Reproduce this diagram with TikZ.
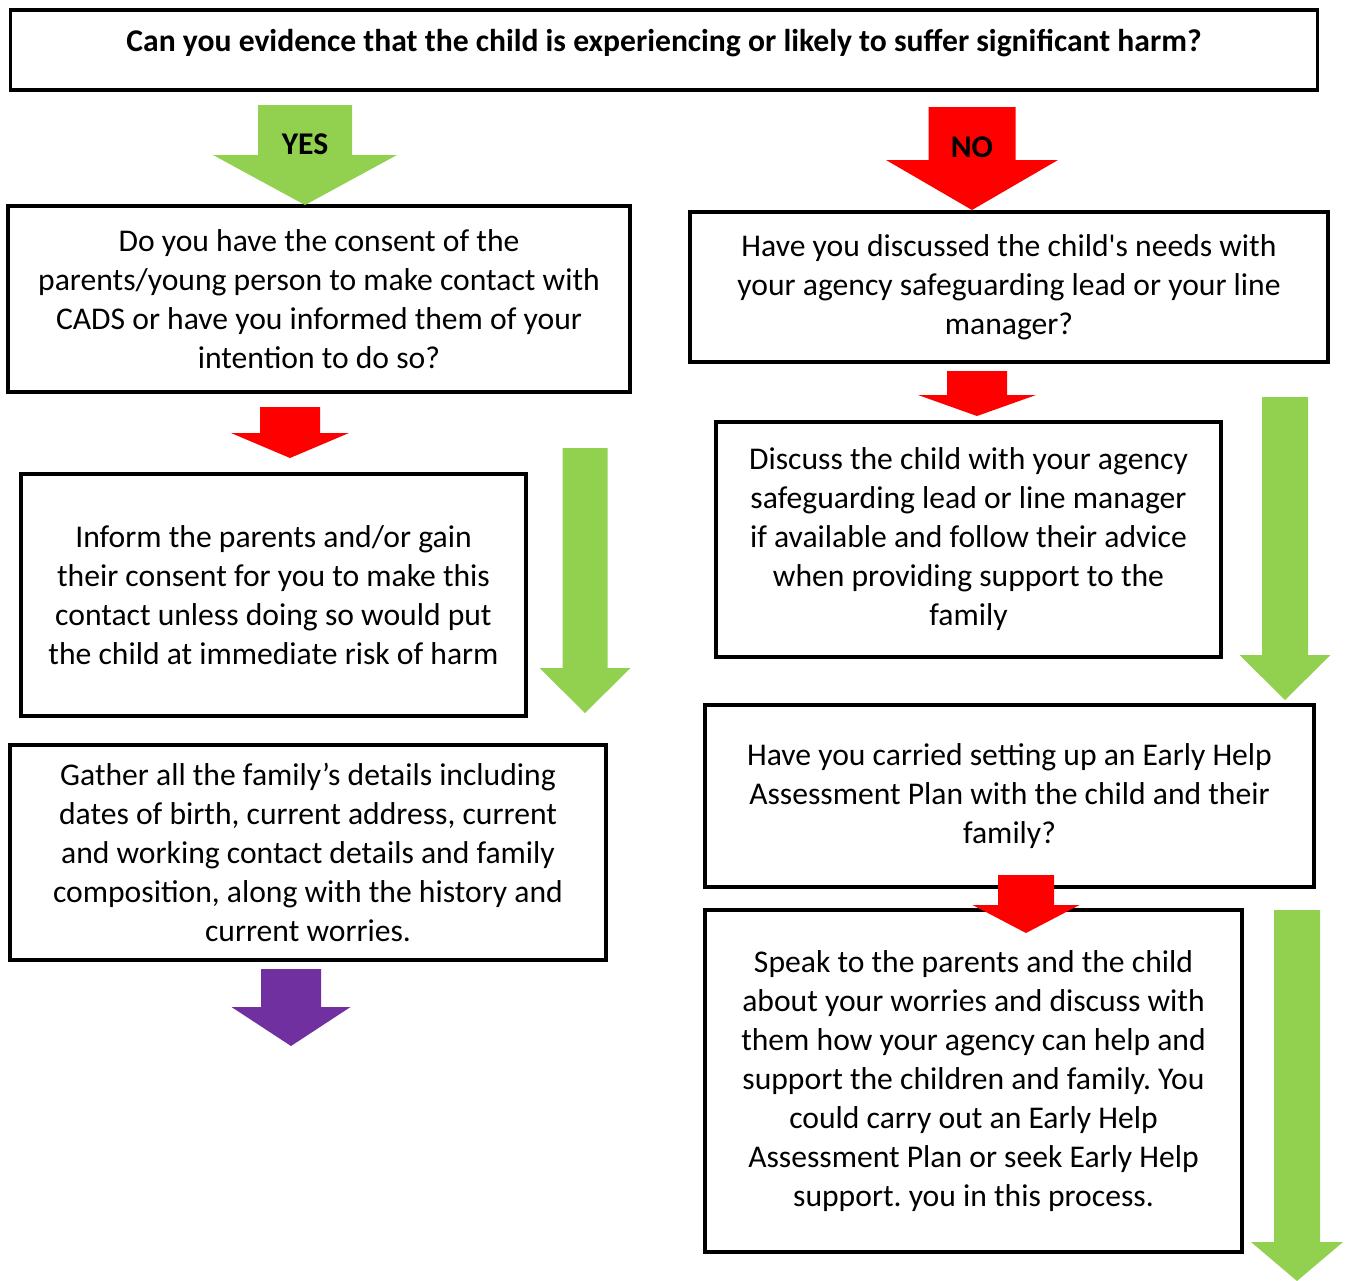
\documentclass[tikz,border=0pt]{standalone}
\usepackage{fontspec}
\setmainfont{Carlito}
\usepackage{xcolor}
\usepackage{tikz}
\frenchspacing

\definecolor{yesgreen}{HTML}{92D050}
\definecolor{nored}{HTML}{FF0000}
\definecolor{endpurple}{HTML}{7030A0}

% block arrow: colour, centre x, top y, half shaft, half head, head y, tip y
\newcommand{\blkarrow}[7]{\fill[#1] (#2-#4,#3) -- (#2+#4,#3) -- (#2+#4,#6) -- (#2+#5,#6) -- (#2,#7) -- (#2-#5,#6) -- (#2-#4,#6) -- cycle;}

\begin{document}
\begin{tikzpicture}[x=0.02cm,y=-0.02cm,
  box/.style={draw=black,line width=1.8pt,fill=white,align=center,inner sep=0pt,font=\fontsize{18}{22.2}\selectfont},
  tag/.style={draw=none,font=\fontsize{18}{22.2}\selectfont\bfseries}]
             \useasboundingbox (0,0) rectangle (1349,1281);

             \node[box,minimum width=26.16cm,minimum height=1.6cm] (top) at (664,50) {};
             \node[tag] (question) at (664,43) {Can you evidence that the child is experiencing or likely to suffer significant harm?};

             \node[box,minimum width=12.44cm,minimum height=3.72cm] (consent) at (319,299)
               {Do you have the consent of the\\parents/young person to make contact with\\CADS or have you informed them of your\\intention to do so?};
             \node[box,minimum width=12.76cm,minimum height=3.0cm] (discussed) at (1009,287)
               {Have you discussed the child\textquotesingle s needs with\\your agency safeguarding lead or your line\\manager?};
             \node[box,minimum width=10.1cm,minimum height=4.84cm] (inform) at (273.5,595)
               {Inform the parents and/or gain\\their consent for you to make this\\contact unless doing so would put\\the child at immediate risk of harm};
             \node[box,minimum width=11.92cm,minimum height=4.3cm] (gather) at (308,852.5)
               {Gather all the family’s details including\\dates of birth, current address, current\\and working contact details and family\\composition, along with the history and\\current worries.};
             \node[box,minimum width=10.1cm,minimum height=4.7cm] (discuss) at (968.5,539.5)
               {Discuss the child with your agency\\safeguarding lead or line manager\\if available and follow their advice\\when providing support to the\\family};
             \node[box,minimum width=12.18cm,minimum height=3.64cm] (earlyhelp) at (1009.5,796)
               {Have you carried setting up an Early Help\\Assessment Plan with the child and their\\family?};
             \node[box,minimum width=10.74cm,minimum height=6.84cm] (speak) at (973.5,1081)
               {Speak to the parents and the child\\about your worries and discuss with\\them how your agency can help and\\support the children and family. You\\could carry out an Early Help\\Assessment Plan or seek Early Help\\support. you in this process.};

             \blkarrow{yesgreen}{305}{105}{47}{92}{155}{205}
             \node[tag] (yes) at (305,144) {YES};
             \blkarrow{nored}{972}{107}{43.5}{86}{160}{210}
             \node[tag] (no) at (972,147) {NO};

             \blkarrow{nored}{290}{407}{30}{59}{433}{458}
             \blkarrow{yesgreen}{585}{448}{22.5}{45.5}{668}{713}
             \blkarrow{endpurple}{291}{969}{30}{59.5}{1007}{1046}

             \blkarrow{nored}{977}{371}{30}{59}{395}{416}
             \blkarrow{yesgreen}{1285}{397}{23}{45.5}{655}{700}
             \blkarrow{nored}{1026}{875}{28}{53.5}{905}{933}
             \blkarrow{yesgreen}{1297}{910}{23}{46}{1242}{1281}
             \end{tikzpicture}
\end{document}
